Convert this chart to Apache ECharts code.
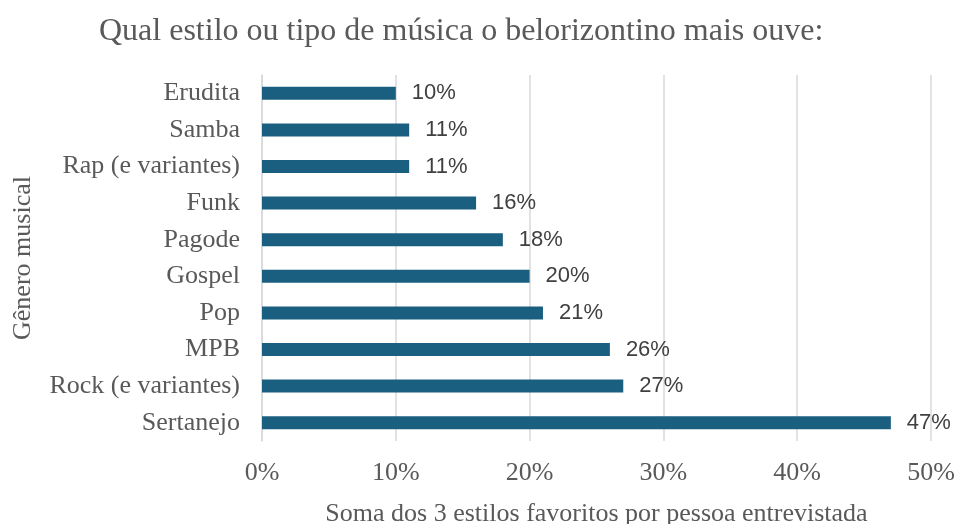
<!DOCTYPE html>
<html>
<head>
<meta charset="utf-8">
<script src="https://cdn.jsdelivr.net/npm/echarts@6/dist/echarts.min.js"></script>
<style>
  html, body { margin: 0; padding: 0; background: #fff; }
  #chart { width: 958px; height: 524px; }
</style>
</head>
<body>
<div id="chart"></div>
<script>
// categories from bottom to top (as drawn by the y axis)
const categories = ["Sertanejo", "Rock (e variantes)", "MPB", "Pop", "Gospel", "Pagode", "Funk", "Rap (e variantes)", "Samba", "Erudita"];
const values = [47, 27, 26, 21, 20, 18, 16, 11, 11, 10];
const xTicks = [0, 10, 20, 30, 40, 50];

const serif = "'Liberation Serif', 'DejaVu Serif', serif";
const sans = "'Liberation Sans', Arial, sans-serif";
const textColor = "#595959";

const chart = echarts.init(document.getElementById("chart"));
chart.setOption({
  animation: false,
  title: {
    text: "Qual estilo ou tipo de música o belorizontino mais ouve:",
    left: 94,
    top: 11,
    textStyle: { fontFamily: serif, fontSize: 32, fontWeight: "normal", color: textColor },
  },
  grid: { left: 262, right: 27, top: 75, bottom: 83, outerBoundsMode: "none" },
  xAxis: {
    type: "value",
    min: xTicks[0],
    max: xTicks[xTicks.length - 1],
    interval: 10,
    name: "Soma dos 3 estilos favoritos por pessoa entrevistada",
    nameLocation: "middle",
    nameGap: 60,
    nameTextStyle: { fontFamily: serif, fontSize: 26, color: textColor },
    axisLine: { show: false },
    axisTick: { show: false },
    axisLabel: {
      fontFamily: serif, fontSize: 26, color: textColor, margin: 19,
      formatter: (v) => v + "%",
    },
    splitLine: { lineStyle: { color: "#d9d9d9", width: 1.5 } },
  },
  yAxis: {
    type: "category",
    data: categories,
    name: "Gênero musical",
    nameLocation: "middle",
    nameGap: 226,
    nameRotate: 90,
    nameTextStyle: { fontFamily: serif, fontSize: 26, color: textColor },
    axisLine: { show: true, lineStyle: { color: "#d9d9d9", width: 1.5 } },
    axisTick: { show: false },
    axisLabel: { fontFamily: serif, fontSize: 26, color: textColor, margin: 22 },
  },
  series: [{
    type: "bar",
    data: values,
    barWidth: 13,
    itemStyle: { color: "#1a5f80" },
    label: {
      show: true,
      position: "right",
      distance: 16,
      formatter: (p) => p.value + "%",
      fontFamily: sans,
      fontSize: 22,
      color: "#404040",
    },
  }],
});
</script>
</body>
</html>
